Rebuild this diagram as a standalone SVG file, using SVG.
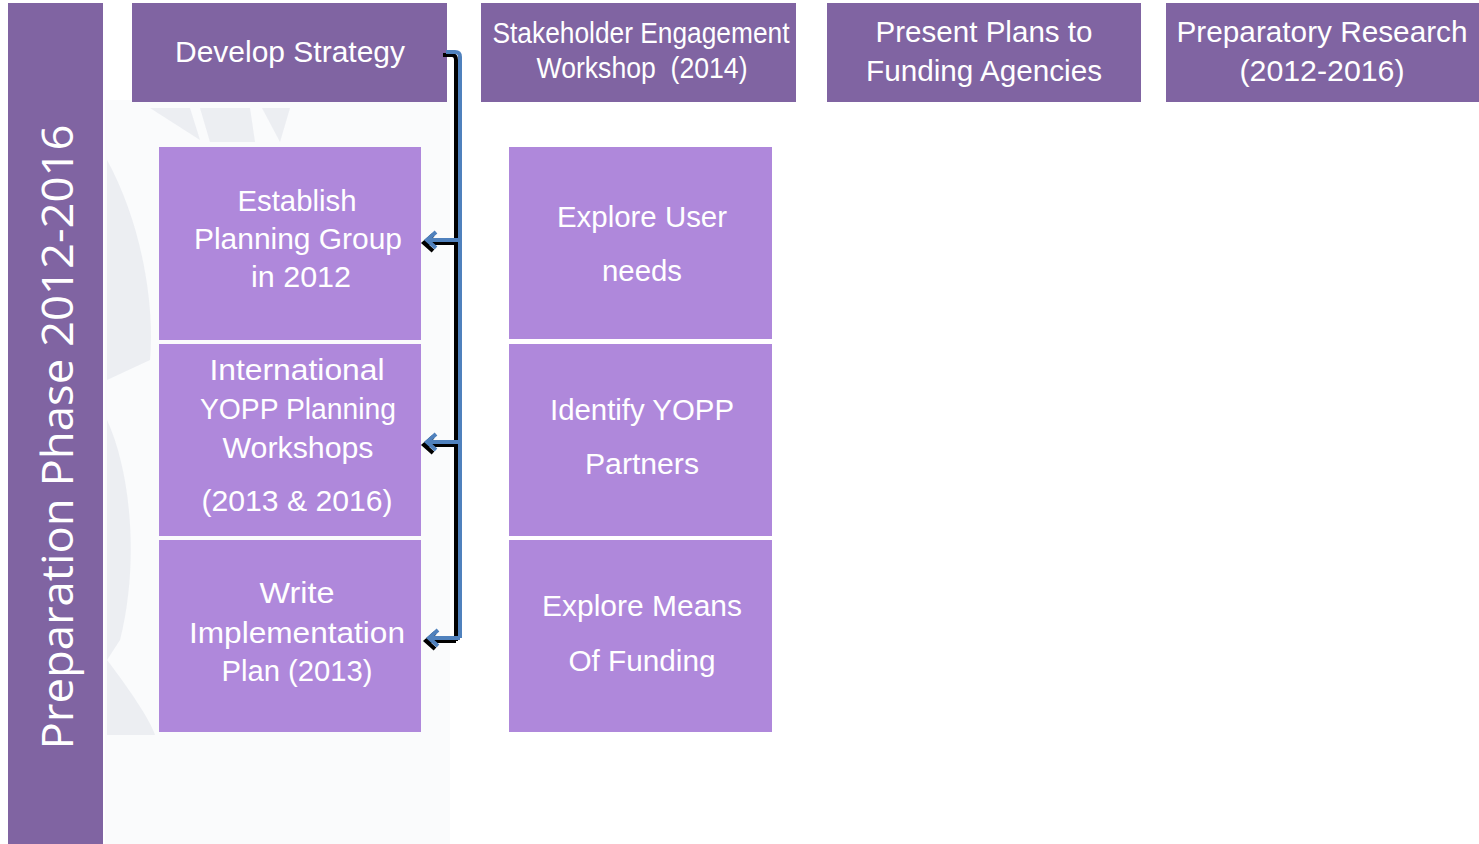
<svg xmlns="http://www.w3.org/2000/svg" width="1479" height="844" viewBox="0 0 1479 844">
<defs>
<style>
.hdr{fill:#8064A2}
.sub{fill:#AF88DB}
.t{font-family:"Liberation Sans","Open Sans",Arial,sans-serif;font-size:30px;fill:#ffffff;text-anchor:middle}
.v{font-family:"Open Sans","DejaVu Sans",sans-serif;font-size:43px;fill:#ffffff;text-anchor:middle}
.wm{fill:#e6e8ee;opacity:0.7}
.sh{fill:none;stroke:#000;stroke-width:4;stroke-linecap:butt;stroke-linejoin:miter}
.bl{fill:none;stroke:#4F81BD;stroke-width:4;stroke-linecap:butt;stroke-linejoin:miter}
</style>
</defs>
<rect width="1479" height="844" fill="#ffffff"/>
<g id="watermark">
<rect x="105" y="100" width="345" height="744" fill="#fafbfc"/>
<path class="wm" d="M150 108 L190 108 L200 140 Z"/>
<path class="wm" d="M200 108 L250 108 L255 142 L210 142 Z"/>
<path class="wm" d="M262 108 L290 108 L280 142 Z"/>
<path class="wm" d="M107 160 C140 220 155 300 150 360 L107 380 Z"/>
<path class="wm" d="M107 420 C130 470 140 560 120 640 L107 660 Z"/>
<path class="wm" d="M107 660 C130 690 150 720 155 735 L107 735 Z"/>
</g>
<g id="phase">
<rect class="hdr" x="8" y="3" width="95" height="841"/>
<text class="v" transform="translate(73 437) rotate(-90)" textLength="625" lengthAdjust="spacingAndGlyphs">Preparation Phase 2012-2016</text>
</g>
<g id="develop-strategy">
<rect class="hdr" x="132" y="3" width="315" height="99"/>
<text class="t" x="290" y="62" textLength="230" lengthAdjust="spacingAndGlyphs">Develop Strategy</text>
</g>
<g id="stakeholder-workshop">
<rect class="hdr" x="481" y="3" width="315" height="99"/>
<text class="t" x="641" y="43" textLength="297" lengthAdjust="spacingAndGlyphs">Stakeholder Engagement</text>
<text class="t" x="642" y="78" textLength="211" lengthAdjust="spacingAndGlyphs">Workshop&#160; (2014)</text>
</g>
<g id="present-plans">
<rect class="hdr" x="827" y="3" width="314" height="99"/>
<text class="t" x="984" y="42" textLength="217" lengthAdjust="spacingAndGlyphs">Present Plans to</text>
<text class="t" x="984" y="81" textLength="236" lengthAdjust="spacingAndGlyphs">Funding Agencies</text>
</g>
<g id="preparatory-research">
<rect class="hdr" x="1166" y="3" width="313" height="99"/>
<text class="t" x="1322" y="42" textLength="291" lengthAdjust="spacingAndGlyphs">Preparatory Research</text>
<text class="t" x="1322" y="81" textLength="165" lengthAdjust="spacingAndGlyphs">(2012-2016)</text>
</g>
<g id="establish-planning-group">
<rect class="sub" x="159" y="147" width="262" height="193"/>
<text class="t" x="297" y="211" textLength="119" lengthAdjust="spacingAndGlyphs">Establish</text>
<text class="t" x="298" y="249" textLength="208" lengthAdjust="spacingAndGlyphs">Planning Group</text>
<text class="t" x="301" y="287" textLength="100" lengthAdjust="spacingAndGlyphs">in 2012</text>
</g>
<g id="planning-workshops">
<rect class="sub" x="159" y="344" width="262" height="192"/>
<text class="t" x="297" y="380" textLength="175" lengthAdjust="spacingAndGlyphs">International</text>
<text class="t" x="298" y="419" textLength="196" lengthAdjust="spacingAndGlyphs">YOPP Planning</text>
<text class="t" x="298" y="458" textLength="151" lengthAdjust="spacingAndGlyphs">Workshops</text>
<text class="t" x="297" y="511" textLength="191" lengthAdjust="spacingAndGlyphs">(2013 &amp; 2016)</text>
</g>
<g id="implementation-plan">
<rect class="sub" x="159" y="540" width="262" height="192"/>
<text class="t" x="297" y="603" textLength="75" lengthAdjust="spacingAndGlyphs">Write</text>
<text class="t" x="297" y="643" textLength="216" lengthAdjust="spacingAndGlyphs">Implementation</text>
<text class="t" x="297" y="681" textLength="151" lengthAdjust="spacingAndGlyphs">Plan (2013)</text>
</g>
<g id="explore-user-needs">
<rect class="sub" x="509" y="147" width="263" height="192"/>
<text class="t" x="642" y="227" textLength="170" lengthAdjust="spacingAndGlyphs">Explore User</text>
<text class="t" x="642" y="281" textLength="80" lengthAdjust="spacingAndGlyphs">needs</text>
</g>
<g id="identify-partners">
<rect class="sub" x="509" y="344" width="263" height="192"/>
<text class="t" x="642" y="420" textLength="184" lengthAdjust="spacingAndGlyphs">Identify YOPP</text>
<text class="t" x="642" y="474" textLength="114" lengthAdjust="spacingAndGlyphs">Partners</text>
</g>
<g id="means-of-funding">
<rect class="sub" x="509" y="540" width="263" height="192"/>
<text class="t" x="642" y="616" textLength="200" lengthAdjust="spacingAndGlyphs">Explore Means</text>
<text class="t" x="642" y="671" textLength="147" lengthAdjust="spacingAndGlyphs">Of Funding</text>
</g>
<g id="connectors">
<g transform="translate(-3 3)">
<path class="sh" d="M446 52 L455 52 Q459 52 459 57 L459 638"/>
<path class="sh" d="M459 240 L428 240 M436 232 L427 240 L436 248"/>
<path class="sh" d="M459 442 L428 442 M436 434 L427 442 L436 450"/>
<path class="sh" d="M459 638 L430 638 M438 630 L429 638 L438 646"/>
</g>
<path class="bl" d="M446 52 L455 52 Q460 52 460 57 L460 638"/>
<path class="bl" d="M460 240 L428 240 M436 232 L427 240 L436 248"/>
<path class="bl" d="M460 442 L428 442 M436 434 L427 442 L436 450"/>
<path class="bl" d="M460 638 L430 638 M438 630 L429 638 L438 646"/>
</g>
</svg>
